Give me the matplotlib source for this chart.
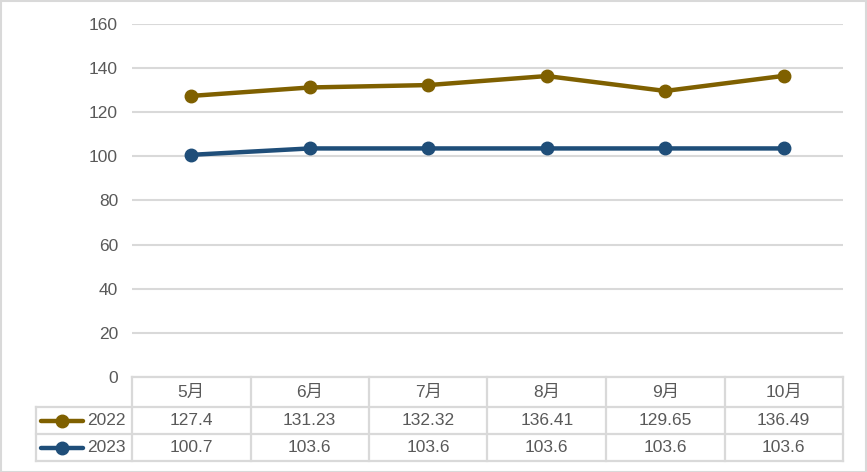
import matplotlib
matplotlib.use("Agg")
import matplotlib.pyplot as plt
from matplotlib.lines import Line2D
from matplotlib.patches import Rectangle

months = ["5月", "6月", "7月", "8月", "9月", "10月"]
series_names = ["2022", "2023"]
values_2022 = [127.4, 131.23, 132.32, 136.41, 129.65, 136.49]
values_2023 = [100.7, 103.6, 103.6, 103.6, 103.6, 103.6]
labels_2022 = ["127.4", "131.23", "132.32", "136.41", "129.65", "136.49"]
labels_2023 = ["100.7", "103.6", "103.6", "103.6", "103.6", "103.6"]
yticks = [0, 20, 40, 60, 80, 100, 120, 140, 160]

colors = ["#7f6000", "#1f4e79"]
grid_c = "#d9d9d9"
text_c = "#595959"
FONT = ["Liberation Sans", "Noto Sans CJK SC", "DejaVu Sans"]
plt.rcParams['font.family'] = FONT
FS = 12.5

W, H = 867, 472
fig = plt.figure(figsize=(W / 100, H / 100), dpi=100)

def fx(x):
    return x / W

def fy(y):
    return 1 - y / H

L, R, T, B = 132, 843, 24, 377
ax = fig.add_axes([fx(L), fy(B), fx(R) - fx(L), fy(T) - fy(B)])
ax.set_xlim(-0.5, len(months) - 0.5)
ax.set_ylim(0, 160)
ax.set_yticks(yticks)
ax.set_yticklabels([str(t) for t in yticks], fontsize=FS, color=text_c)
ax.tick_params(axis='y', length=0, pad=10)
ax.set_xticks([])
for s in ax.spines.values():
    s.set_visible(False)
ax.grid(axis='y', color=grid_c, linewidth=1.5)
ax.set_axisbelow(True)

xs = list(range(len(months)))
for vals, c in zip([values_2022, values_2023], colors):
    ax.plot(xs, vals, color=c, linewidth=3.2, marker='o', markersize=9,
            solid_capstyle='round', clip_on=False, zorder=3)

# Table
col_w = (R - L) / len(months)
rows_y = [377, 407, 434, 461]
leg_left = 36
tr = fig.transFigure
lw = 1.6
fig.add_artist(Line2D([fx(L), fx(R)], [fy(rows_y[0])] * 2, transform=tr, color=grid_c, lw=lw))
for y in rows_y[1:]:
    fig.add_artist(Line2D([fx(leg_left), fx(R)], [fy(y)] * 2, transform=tr, color=grid_c, lw=lw))
for i in range(len(months) + 1):
    x = L + i * col_w
    fig.add_artist(Line2D([fx(x)] * 2, [fy(rows_y[0]), fy(rows_y[3])], transform=tr, color=grid_c, lw=lw))
fig.add_artist(Line2D([fx(leg_left)] * 2, [fy(rows_y[1]), fy(rows_y[3])], transform=tr, color=grid_c, lw=lw))

for i, m in enumerate(months):
    cx = L + (i + 0.5) * col_w
    fig.text(fx(cx), fy((rows_y[0] + rows_y[1]) / 2), m, ha='center', va='center',
             fontsize=FS, color=text_c)
    fig.text(fx(cx), fy((rows_y[1] + rows_y[2]) / 2), labels_2022[i], ha='center', va='center',
             fontsize=FS, color=text_c)
    fig.text(fx(cx), fy((rows_y[2] + rows_y[3]) / 2), labels_2023[i], ha='center', va='center',
             fontsize=FS, color=text_c)

for r, (name, c) in enumerate(zip(series_names, colors)):
    yc = fy((rows_y[r + 1] + rows_y[r + 2]) / 2)
    fig.add_artist(Line2D([fx(41), fx(83)], [yc, yc], transform=tr, color=c, lw=3.2,
                          solid_capstyle='round'))
    fig.add_artist(Line2D([fx(62)], [yc], transform=tr, color=c, marker='o',
                          markersize=9, lw=0))
    fig.text(fx(87), yc, name, ha='left', va='center', fontsize=FS, color=text_c)

fig.add_artist(Rectangle((0.5 / W, 0.5 / H), 1 - 1.5 / W, 1 - 1.5 / H, transform=tr,
                         fill=False, edgecolor=grid_c, lw=1.5))

fig.savefig("out.png", dpi=100)
